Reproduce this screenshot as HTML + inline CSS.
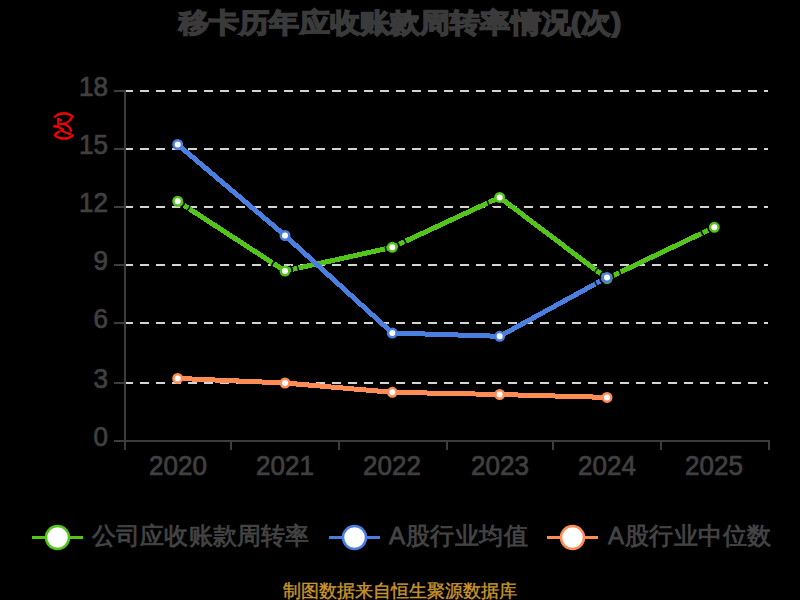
<!DOCTYPE html>
<html>
<head>
<meta charset="utf-8">
<style>
html,body{margin:0;padding:0;width:800px;height:600px;overflow:hidden;background:#000;}
body{position:relative;font-family:"Liberation Sans",sans-serif;}
.t{position:absolute;white-space:nowrap;line-height:1;}
#title{left:179px;top:9px;font-size:30px;font-weight:bold;color:#3a3a3a;-webkit-text-stroke:1.75px #3a3a3a;transform:scaleY(0.9);transform-origin:0 0;letter-spacing:0.15px;}
#unit{left:47.5px;top:116.5px;font-size:20px;letter-spacing:-2px;color:#ff0000;-webkit-text-stroke:0.5px #f00;transform:rotate(-90deg);transform-origin:center;}
.yl{position:absolute;right:692px;font-size:26px;color:#404040;line-height:1;text-align:right;-webkit-text-stroke:0.7px #404040;transform:scaleY(1.07);transform-origin:0 0;}
.xl{position:absolute;font-size:26px;color:#404040;line-height:1;width:100px;text-align:center;-webkit-text-stroke:0.7px #404040;transform:scaleY(1.07);transform-origin:0 0;}
.lg{position:absolute;font-size:24px;color:#444;line-height:1;white-space:nowrap;-webkit-text-stroke:0.8px #444;}
#foot{left:282.5px;top:581.5px;font-size:18px;color:#c8962d;-webkit-text-stroke:0.4px #c8962d;}
svg{position:absolute;left:0;top:0;}
</style>
</head>
<body>
<svg width="800" height="600" viewBox="0 0 800 600">
  <!-- grid lines -->
  <g stroke="#d4d4d4" stroke-width="2" stroke-dasharray="9 7">
    <line x1="124" y1="91" x2="768" y2="91"/>
    <line x1="124" y1="149" x2="768" y2="149"/>
    <line x1="124" y1="207" x2="768" y2="207"/>
    <line x1="124" y1="265" x2="768" y2="265"/>
    <line x1="124" y1="323" x2="768" y2="323"/>
    <line x1="124" y1="383" x2="768" y2="383"/>
  </g>
  <!-- axes -->
  <g stroke="#3c3c3c" stroke-width="2">
    <line x1="125" y1="90" x2="125" y2="450"/>
    <line x1="114" y1="441" x2="770" y2="441"/>
    <line x1="114" y1="91" x2="125" y2="91"/>
    <line x1="114" y1="149" x2="125" y2="149"/>
    <line x1="114" y1="207" x2="125" y2="207"/>
    <line x1="114" y1="265" x2="125" y2="265"/>
    <line x1="114" y1="323" x2="125" y2="323"/>
    <line x1="114" y1="383" x2="125" y2="383"/>
    <line x1="231" y1="441" x2="231" y2="450"/>
    <line x1="339" y1="441" x2="339" y2="450"/>
    <line x1="447" y1="441" x2="447" y2="450"/>
    <line x1="553" y1="441" x2="553" y2="450"/>
    <line x1="661" y1="441" x2="661" y2="450"/>
    <line x1="769" y1="440" x2="769" y2="450"/>
  </g>
  <!-- green series -->
  <polyline fill="none" stroke="#52c41a" stroke-width="5" stroke-linejoin="round" shape-rendering="crispEdges"
    points="177.7,201.25 285,271 392.3,247.3 499.7,197.4 607,278.5 714.3,227.3"/>
  <g fill="#fff" stroke="#52c41a" stroke-width="2.5">
    <circle cx="177.7" cy="201.25" r="4.25"/>
    <circle cx="285" cy="271" r="4.25"/>
    <circle cx="392.3" cy="247.3" r="4.25"/>
    <circle cx="499.7" cy="197.4" r="4.25"/>
    <circle cx="607" cy="278.5" r="4.25"/>
    <circle cx="714.3" cy="227.3" r="4.25"/>
  </g>
  <!-- blue series -->
  <polyline fill="none" stroke="#4a7fe0" stroke-width="5" stroke-linejoin="round" shape-rendering="crispEdges"
    points="177.7,144.5 285,235.5 392.3,333 499.7,336.3 607,277.5"/>
  <g fill="#fff" stroke="#4a7fe0" stroke-width="2.5">
    <circle cx="177.7" cy="144.5" r="4.25"/>
    <circle cx="285" cy="235.5" r="4.25"/>
    <circle cx="392.3" cy="333" r="4.25"/>
    <circle cx="499.7" cy="336.3" r="4.25"/>
    <circle cx="607" cy="277.5" r="4.25"/>
  </g>
  <!-- orange series -->
  <polyline fill="none" stroke="#ff8c55" stroke-width="5" stroke-linejoin="round" shape-rendering="crispEdges"
    points="177.7,378.4 285,383 392.3,392.3 499.7,394.5 607,397.4"/>
  <g fill="#fff" stroke="#ff8c55" stroke-width="2.5">
    <circle cx="177.7" cy="378.4" r="4.25"/>
    <circle cx="285" cy="383" r="4.25"/>
    <circle cx="392.3" cy="392.3" r="4.25"/>
    <circle cx="499.7" cy="394.5" r="4.25"/>
    <circle cx="607" cy="397.4" r="4.25"/>
  </g>
  <!-- label occlusions -->
  <path fill="none" stroke="#000" stroke-width="1.6" d="M184.50,201.02 A6.8,6.8 0 0 1 180.24,207.56 M190.89,200.80 A13.2,13.2 0 0 1 182.64,213.49 M289.87,265.70 A7.2,7.2 0 0 1 291.65,273.76 M293.93,261.27 A13.2,13.2 0 0 1 297.19,276.06 M270.51,271.50 A14.5,14.5 0 0 1 279.57,257.55 M387.70,252.31 A6.8,6.8 0 0 1 386.02,244.69 M395.71,241.42 A6.8,6.8 0 0 1 399.00,248.49 M399.42,235.01 A14.2,14.2 0 0 1 406.28,249.79 M493.28,208.48 A12.8,12.8 0 0 1 487.10,195.16 M600.20,277.29 A6.8,6.8 0 0 1 604.87,271.04 M593.81,277.10 A13.2,13.2 0 0 1 602.86,264.96 M603.90,283.78 A7.0,7.0 0 0 1 600.04,276.73 M601.42,288.80 A12.6,12.6 0 0 1 594.48,276.12 M610.24,271.87 A6.5,6.5 0 0 1 613.40,278.62 M613.98,265.37 A14.0,14.0 0 0 1 620.79,279.91 M711.21,232.67 A6.2,6.2 0 0 1 708.19,226.23 M707.46,239.17 A13.7,13.7 0 0 1 700.81,224.94"/>
  <!-- legend icons -->
  <line x1="32" y1="537.5" x2="83" y2="537.5" stroke="#52c41a" stroke-width="3"/>
  <circle cx="57.5" cy="537.5" r="11.5" fill="#fff" stroke="#52c41a" stroke-width="2.5"/>
  <line x1="329" y1="537.5" x2="380" y2="537.5" stroke="#4a7fe0" stroke-width="3"/>
  <circle cx="354.5" cy="537.5" r="11.5" fill="#fff" stroke="#4a7fe0" stroke-width="2.5"/>
  <line x1="547" y1="537.5" x2="598" y2="537.5" stroke="#ff8c55" stroke-width="3"/>
  <circle cx="572.5" cy="537.5" r="11.5" fill="#fff" stroke="#ff8c55" stroke-width="2.5"/>
</svg>
<div id="title" class="t">移卡历年应收账款周转率情况(次)</div>
<div id="unit" class="t">(次)</div>
<div class="yl" style="top:72.0px">18</div>
<div class="yl" style="top:130.0px">15</div>
<div class="yl" style="top:188.0px">12</div>
<div class="yl" style="top:246.0px">9</div>
<div class="yl" style="top:304.0px">6</div>
<div class="yl" style="top:364.0px">3</div>
<div class="yl" style="top:422.0px">0</div>
<div class="xl" style="left:128px;top:451px">2020</div>
<div class="xl" style="left:235px;top:451px">2021</div>
<div class="xl" style="left:342px;top:451px">2022</div>
<div class="xl" style="left:450px;top:451px">2023</div>
<div class="xl" style="left:557px;top:451px">2024</div>
<div class="xl" style="left:664px;top:451px">2025</div>
<div class="lg" style="left:92px;top:524px;letter-spacing:0.15px">公司应收账款周转率</div>
<div class="lg" style="left:389px;top:524px;letter-spacing:0.6px">A股行业均值</div>
<div class="lg" style="left:608px;top:524px;letter-spacing:0.5px">A股行业中位数</div>
<div id="foot" class="t">制图数据来自恒生聚源数据库</div>
</body>
</html>
